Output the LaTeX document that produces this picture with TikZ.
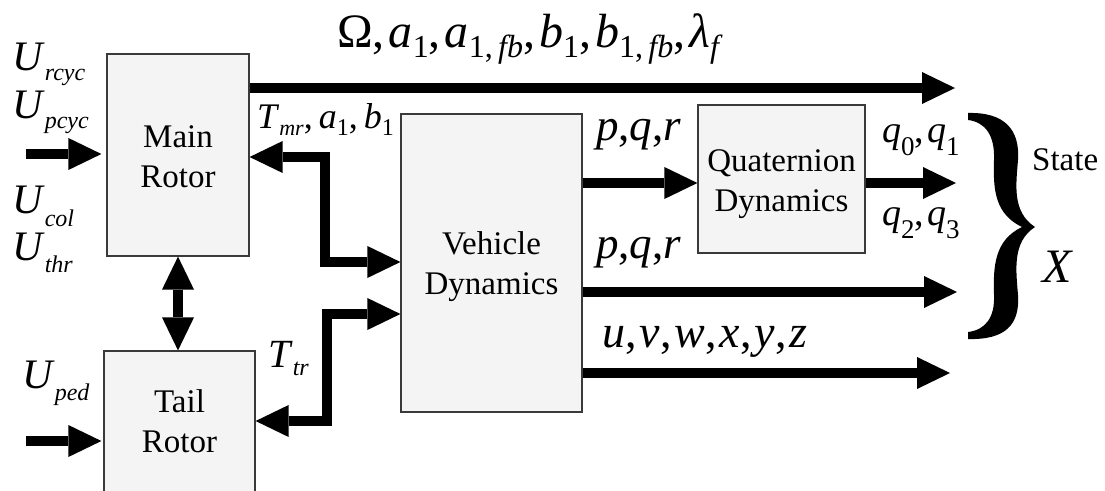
\documentclass[tikz,border=0pt]{standalone}
\usepackage{fontspec}
\setmainfont{Liberation Serif}
\usepackage{graphicx}
\usetikzlibrary{arrows.meta}
\definecolor{boxfill}{HTML}{F4F4F4}
\definecolor{boxline}{HTML}{3A3A3A}
\newcommand{\fs}[2]{\fontsize{#1}{#2}\selectfont}
\newcommand{\lo}[3]{\raisebox{-#1pt}{\fs{#2}{#2}#3}}
\newcommand{\tp}{Triangle[length=33pt,width=32pt,line width=0pt]}
\begin{document}
\begin{tikzpicture}[x=1pt,y=-1pt,
  box/.style={draw=boxline, fill=boxfill, line width=1.2pt, inner sep=0pt, align=center, font=\fs{33}{40}},
  flow/.style={line width=10pt, -{\tp}},
  dflow/.style={line width=10pt, {\tp}-{\tp}},
  lbl/.style={anchor=base west, inner sep=0pt}]
\useasboundingbox (0,0) rectangle (1105,490);
\fill[white] (0,0) rectangle (1105,490);
% blocks
\node[box, minimum width=142pt, minimum height=202pt] (MR) at (178,155) {\rule{0pt}{26pt}Main\\Rotor};
\node[box, minimum width=151pt, minimum height=145pt] (TR) at (179.5,423.5) {Tail\\Rotor\rule[-5.5pt]{0pt}{0pt}};
\node[box, minimum width=181pt, minimum height=298pt] (VD) at (491.5,263) {\rule{0pt}{31pt}Vehicle\\Dynamics};
\node[box, minimum width=167pt, minimum height=148pt] (QD) at (781.5,179) {\rule{0pt}{33pt}Quaternion\\Dynamics};
% free ends
\coordinate (inM) at (26,154);
\coordinate (inT) at (26,441);
\coordinate (o1) at (955,88);
\coordinate (o2) at (956,183);
\coordinate (o3) at (957,292);
\coordinate (o4) at (950,373);
% connectors
\draw[flow, shorten >=5pt] (inM) -- (MR.west |- inM);
\draw[flow, shorten >=2pt] (inT) -- (TR.west |- inT);
\draw[dflow] (MR.south) -- (MR.south |- TR.north);
\draw[dflow] (VD.west |- 0,262) -| (325,157) -- (MR.east |- 0,157);
\draw[dflow] (VD.west |- 0,314) -| (327,421) -- (TR.east |- 0,421);
\draw[flow] (MR.east |- o1) -- (o1);
\draw[flow] (VD.east |- 0,183) -- (QD.west |- 0,183);
\draw[flow] (QD.east |- o2) -- (o2);
\draw[flow] (VD.east |- o3) -- (o3);
\draw[flow] (VD.east |- o4) -- (o4);
% brace
\fill[black] (968,113) .. controls (1005,112) and (1020,130) .. (1018,160)
  .. controls (1016,185) and (1012,212) .. (1035,227)
  .. controls (1012,242) and (1016,270) .. (1018,295)
  .. controls (1020,325) and (1005,340) .. (968,339)
  -- (968,332) .. controls (985,330) and (995,318) .. (994,295)
  .. controls (993,265) and (995,240) .. (1022,227)
  .. controls (995,214) and (993,190) .. (994,160)
  .. controls (995,135) and (985,122) .. (968,120) -- cycle;
% labels
\node[lbl, font=\fs{48}{48}] (lOm) at (337,47) {Ω,\kern4pt\textit{a}\lo{10}{32}{1},\kern4pt\textit{a}\lo{10}{32}{1,\,\textit{fb}},\kern4pt\textit{b}\lo{10}{32}{1},\kern4pt\textit{b}\lo{10}{32}{1,\,\textit{fb}},\kern4pt\textit{λ}\lo{10}{32}{\textit{f}}};
\node[lbl, font=\fs{36}{36}] (lTmr) at (257,128) {\textit{T}\lo{7}{22}{\textit{mr}},\,\textit{a}\lo{7}{24}{1},\,\textit{b}\lo{7}{24}{1}};
\node[lbl, font=\fs{45}{45}] (lpqr1) at (596,140) {\textit{p},\textit{q},\textit{r}};
\node[lbl, font=\fs{45}{45}] (lpqr2) at (596,258) {\textit{p},\textit{q},\textit{r}};
\node[lbl, font=\fs{46}{46}] (luvw) at (602,347) {\textit{u},\kern3pt\textit{v},\kern3pt\textit{w},\kern3pt\textit{x},\kern3pt\textit{y},\kern3pt\textit{z}};
\node[lbl, font=\fs{38}{38}] (lq01) at (882,142) {\textit{q}\lo{13}{27}{0},\kern3pt\textit{q}\lo{13}{27}{1}};
\node[lbl, font=\fs{38}{38}] (lq23) at (882,225) {\textit{q}\lo{13}{27}{2},\kern3pt\textit{q}\lo{13}{27}{3}};
\node[lbl, font=\fs{40}{40}] (lTtr) at (268,367) {\textit{T}\lo{8}{24}{\textit{tr}}};
\node[lbl, font=\fs{42}{42}] (lUr) at (12,70) {\textit{U}\lo{10}{24}{\textit{rcyc}}};
\node[lbl, font=\fs{42}{42}] (lUp) at (12,118) {\textit{U}\lo{10}{24}{\textit{pcyc}}};
\node[lbl, font=\fs{42}{42}] (lUc) at (12,213) {\textit{U}\lo{13}{24}{\textit{col}}};
\node[lbl, font=\fs{42}{42}] (lUt) at (12,260) {\textit{U}\lo{12}{24}{\textit{thr}}};
\node[lbl, font=\fs{42}{42}] (lUd) at (22,388) {\textit{U}\lo{12}{24}{\textit{ped}}};
\node[lbl, font=\fs{33}{33}] (lS) at (1032,170) {State};
\node[lbl, font=\fs{48}{48}] (lX) at (1042,282) {\textit{X}};
\end{tikzpicture}
\end{document}
